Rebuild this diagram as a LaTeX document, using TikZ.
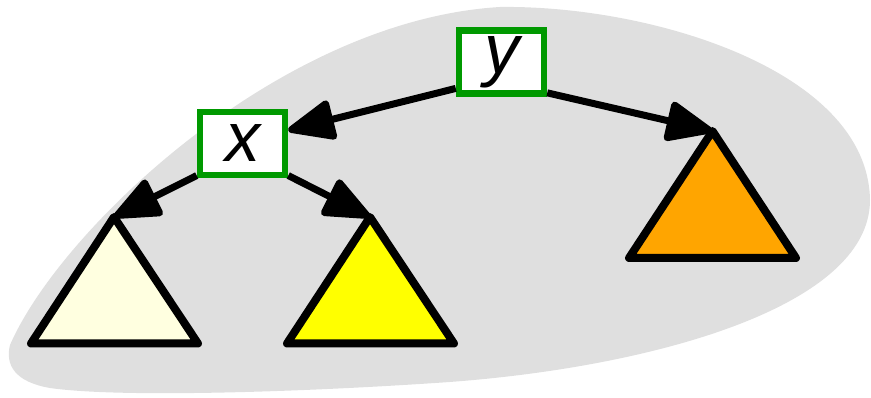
\documentclass[tikz,border=0pt]{standalone}
\usepackage{fontspec}
\setmainfont{Liberation Sans}
\usetikzlibrary{arrows.meta}
\definecolor{blobgray}{RGB}{223,223,223}
\definecolor{boxgreen}{RGB}{0,153,0}
\definecolor{paleyellow}{RGB}{255,255,224}
\definecolor{pureyellow}{RGB}{255,255,0}
\definecolor{orangefill}{RGB}{255,165,0}
\tikzset{
  keybox/.style={draw=boxgreen, fill=white, line width=6.5pt, minimum width=85pt, minimum height=63pt, inner sep=0pt, font=\fontsize{70}{70}\selectfont\itshape},
  treeedge/.style={line width=7pt, -{Triangle[length=52pt,width=42pt,round]}},
  subtree/.style={draw=black, line width=8pt, line join=round}
}
\begin{document}
\begin{tikzpicture}[x=1pt,y=-1pt]
\useasboundingbox (0,0) rectangle (871,398);
\fill[blobgray] (10,345) .. controls (60,230) and (280,20) .. (500,7)
  .. controls (650,5) and (868,70) .. (870,200)
  .. controls (870,310) and (640,370) .. (435,383)
  .. controls (300,392) and (120,398) .. (50,388)
  .. controls (15,382) and (5,365) .. (10,345) -- cycle;
\node[keybox] (y) at (501.5,62) {y};
\node[keybox] (x) at (242.5,143.5) {x};
\coordinate (ta) at (114,217);
\coordinate (tb) at (370,217);
\coordinate (tc) at (712.5,131);
\draw[subtree, fill=paleyellow] (ta) -- (31,343.5) -- (198,343.5) -- cycle;
\draw[subtree, fill=pureyellow] (tb) -- (287,343.5) -- (454,343.5) -- cycle;
\draw[subtree, fill=orangefill] (tc) -- (629,258) -- (796,258) -- cycle;
\draw[treeedge] (y.210) -- (x.16);
\draw[treeedge] (y.326) -- (tc);
\draw[treeedge] (x.215) -- (ta);
\draw[treeedge] (x.325) -- (tb);
\end{tikzpicture}
\end{document}
